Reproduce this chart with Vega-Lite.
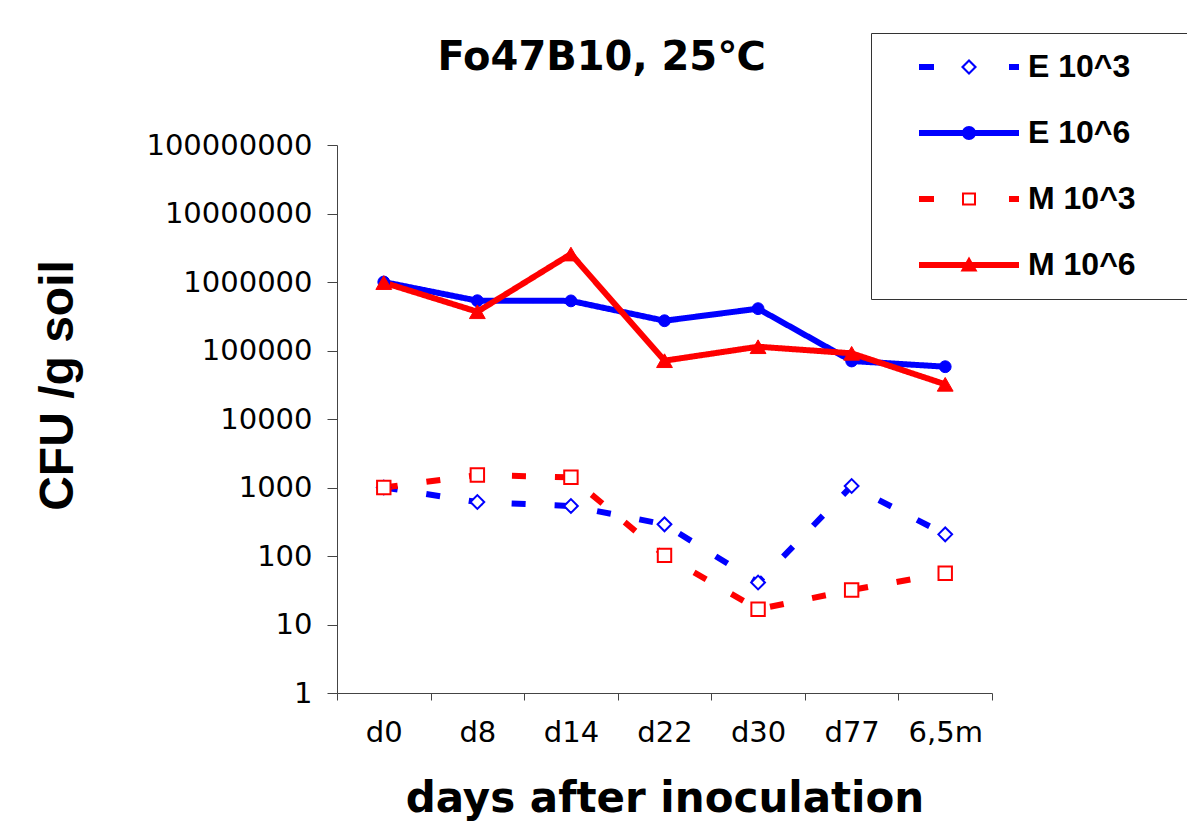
{
  "$schema": "https://vega.github.io/schema/vega-lite/v6.json",
  "width": 655,
  "height": 548,
  "autosize": {"type": "none"},
  "padding": {"left": 337, "top": 145, "right": 195, "bottom": 136},
  "background": "white",
  "title": {"text": "Fo47B10, 25℃"},
  "data": {
    "values": [
      {"day": "d0", "series": "E 10^3", "cfu": 1000},
      {"day": "d8", "series": "E 10^3", "cfu": 614},
      {"day": "d14", "series": "E 10^3", "cfu": 537},
      {"day": "d22", "series": "E 10^3", "cfu": 290},
      {"day": "d30", "series": "E 10^3", "cfu": 41},
      {"day": "d77", "series": "E 10^3", "cfu": 1052},
      {"day": "6,5m", "series": "E 10^3", "cfu": 207},
      {"day": "d0", "series": "E 10^6", "cfu": 1000000},
      {"day": "d8", "series": "E 10^6", "cfu": 533000},
      {"day": "d14", "series": "E 10^6", "cfu": 530000},
      {"day": "d22", "series": "E 10^6", "cfu": 272000},
      {"day": "d30", "series": "E 10^6", "cfu": 408000},
      {"day": "d77", "series": "E 10^6", "cfu": 70300},
      {"day": "6,5m", "series": "E 10^6", "cfu": 58000},
      {"day": "d0", "series": "M 10^3", "cfu": 1000},
      {"day": "d8", "series": "M 10^3", "cfu": 1520},
      {"day": "d14", "series": "M 10^3", "cfu": 1410},
      {"day": "d22", "series": "M 10^3", "cfu": 102},
      {"day": "d30", "series": "M 10^3", "cfu": 16.7},
      {"day": "d77", "series": "M 10^3", "cfu": 31.9},
      {"day": "6,5m", "series": "M 10^3", "cfu": 55.9},
      {"day": "d0", "series": "M 10^6", "cfu": 980000},
      {"day": "d8", "series": "M 10^6", "cfu": 368000},
      {"day": "d14", "series": "M 10^6", "cfu": 2560000},
      {"day": "d22", "series": "M 10^6", "cfu": 71000},
      {"day": "d30", "series": "M 10^6", "cfu": 113600},
      {"day": "d77", "series": "M 10^6", "cfu": 91000},
      {"day": "6,5m", "series": "M 10^6", "cfu": 32100}
    ]
  },
  "encoding": {
    "x": {
      "field": "day",
      "type": "nominal",
      "sort": ["d0", "d8", "d14", "d22", "d30", "d77", "6,5m"],
      "bandPosition": 0.5,
      "scale": {"type": "band", "paddingInner": 0, "paddingOuter": 0},
      "axis": {
        "title": "days after inoculation",
        "titleFont": "DejaVu Sans",
        "titleFontSize": 42,
        "titleFontWeight": "bold",
        "titleX": 327.5,
        "titleY": 118,
        "titleBaseline": "alphabetic",
        "titleAlign": "center",
        "tickBand": "extent",
        "tickSize": 7,
        "labelPadding": 18,
        "labelAngle": 0
      }
    },
    "y": {
      "field": "cfu",
      "type": "quantitative",
      "scale": {"type": "log", "domain": [1, 100000000], "nice": false},
      "axis": {
        "title": "CFU /g soil",
        "titleFont": "Liberation Sans",
        "titleFontSize": 48,
        "titleFontWeight": "bold",
        "titleAngle": -90,
        "titleX": -265,
        "titleY": 240,
        "titleBaseline": "alphabetic",
        "titleAlign": "center",
        "values": [1, 10, 100, 1000, 10000, 100000, 1000000, 10000000, 100000000],
        "format": "d",
        "tickSize": 10,
        "labelPadding": 15
      }
    }
  },
  "layer": [
    {
      "mark": {"type": "line", "strokeWidth": 6, "strokeCap": "butt"},
      "encoding": {
        "detail": {"field": "series"},
        "color": {
          "field": "series",
          "type": "nominal",
          "scale": {"domain": ["E 10^3", "E 10^6", "M 10^3", "M 10^6"], "range": ["#0000ff", "#0000ff", "#ff0000", "#ff0000"]},
          "legend": {
            "title": null,
            "orient": "none",
            "legendX": 534,
            "legendY": -112,
            "padding": 18,
            "rowPadding": 34,
            "symbolSize": 400,
            "labelOffset": 107,
            "labelFont": "Liberation Sans",
            "labelFontSize": 32,
            "labelFontWeight": "bold",
            "labelColor": "black",
            "strokeColor": "#333333",
            "fillColor": "white",
            "encode": {
              "symbols": {
                "update": {
                  "shape": {"signal": "datum.value === 'E 10^3' ? 'M1.4,-0.3H2.9V0.3H1.4Z M10.4,-0.3H11.4V0.3H10.4Z M6.4,-0.8L7.2,0L6.4,0.8L5.6,0Z M6.4,-0.5L5.9,0L6.4,0.5L6.9,0Z M26.5,0' : datum.value === 'E 10^6' ? 'M1.4,-0.3H11.4V0.3H1.4Z M7.1,0A0.7,0.7 0 1,1 5.7,0A0.7,0.7 0 1,1 7.1,0Z M26.5,0' : datum.value === 'M 10^3' ? 'M1.4,-0.3H2.9V0.3H1.4Z M10.4,-0.3H11.4V0.3H10.4Z M5.7,-0.65H7.1V0.65H5.7Z M5.9,-0.45V0.45H6.9V-0.45Z M26.5,0' : 'M1.4,-0.3H11.4V0.3H1.4Z M6.4,-0.85L7.25,0.65H5.55Z M26.5,0'"},
                  "fill": {"signal": "indexof(datum.value, 'E') === 0 ? '#0000ff' : '#ff0000'"},
                  "stroke": {"value": "transparent"},
                  "strokeWidth": {"value": 0},
                  "opacity": {"value": 1},
                  "size": {"value": 400}
                }
              }
            }
          }
        },
        "strokeDash": {
          "field": "series",
          "type": "nominal",
          "scale": {"domain": ["E 10^3", "E 10^6", "M 10^3", "M 10^6"], "range": [[14, 29], [1, 0], [14, 29], [1, 0]]},
          "legend": null
        }
      }
    },
    {
      "transform": [{"filter": "datum.series === 'E 10^3'"}],
      "mark": {"type": "point", "shape": "diamond", "size": 190, "filled": false, "fill": "#ffffff", "stroke": "#0000ff", "strokeWidth": 2, "opacity": 1}
    },
    {
      "transform": [{"filter": "datum.series === 'E 10^6'"}],
      "mark": {"type": "point", "shape": "circle", "size": 140, "filled": true, "fill": "#0000ff", "stroke": "#0000ff", "strokeWidth": 1, "opacity": 1}
    },
    {
      "transform": [{"filter": "datum.series === 'M 10^3'"}],
      "mark": {"type": "point", "shape": "square", "size": 180, "filled": false, "fill": "#ffffff", "stroke": "#ff0000", "strokeWidth": 2, "opacity": 1}
    },
    {
      "transform": [{"filter": "datum.series === 'M 10^6'"}],
      "mark": {"type": "point", "shape": "triangle-up", "size": 250, "filled": true, "fill": "#ff0000", "stroke": "#ff0000", "strokeWidth": 1, "opacity": 1}
    }
  ],
  "config": {
    "view": {"stroke": null},
    "title": {
      "font": "DejaVu Sans",
      "fontSize": 40,
      "fontWeight": "bold",
      "color": "black",
      "anchor": "middle",
      "dx": -63,
      "offset": -45,
      "baseline": "alphabetic"
    },
    "axis": {
      "domainColor": "#444444",
      "tickColor": "#444444",
      "labelColor": "black",
      "titleColor": "black",
      "labelFont": "DejaVu Sans",
      "labelFontSize": 29,
      "grid": false
    }
  }
}
